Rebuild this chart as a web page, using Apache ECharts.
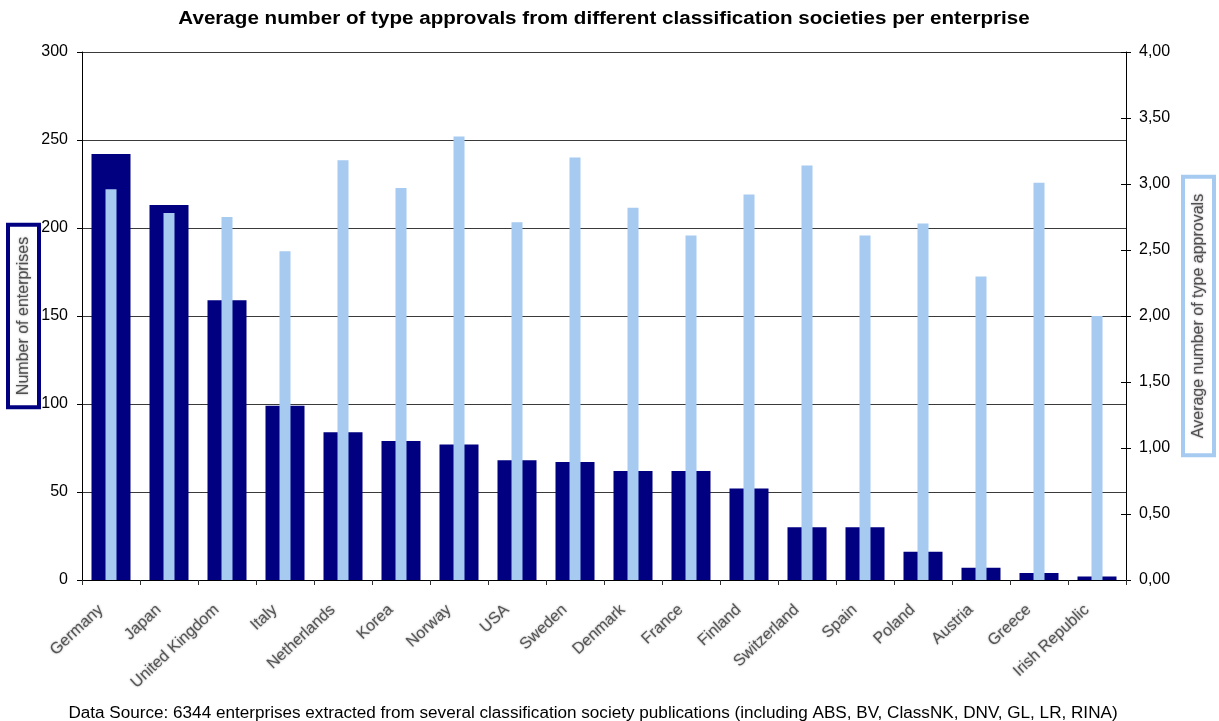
<!DOCTYPE html>
<html>
<head>
<meta charset="utf-8">
<title>Type approvals per enterprise</title>
<script src="https://cdn.jsdelivr.net/npm/echarts@6/dist/echarts.min.js"></script>
<style>
  html, body { margin: 0; padding: 0; background: #ffffff; }
  #chart { width: 1219px; height: 721px; }
</style>
</head>
<body>
<div id="chart"></div>
<script>
// Countries, ordered by number of enterprises
var countries = ['Germany', 'Japan', 'United Kingdom', 'Italy', 'Netherlands', 'Korea', 'Norway', 'USA',
  'Sweden', 'Denmark', 'France', 'Finland', 'Switzerland', 'Spain', 'Poland', 'Austria', 'Greece', 'Irish Republic'];

// Number of enterprises per country (left axis)
var enterprises = [242, 213, 159, 99, 84, 79, 77, 68, 67, 62, 62, 52, 30, 30, 16, 7, 4, 2];

// Average number of type approvals per enterprise (right axis)
var approvals = [2.96, 2.78, 2.75, 2.49, 3.18, 2.97, 3.36, 2.71, 3.20, 2.82, 2.61, 2.92, 3.14, 2.61, 2.70, 2.30, 3.01, 2.00];

// Axis ranges
var leftMax = 300, leftStep = 50;
var rightMax = 4, rightStep = 0.5;

var titleText = 'Average number of type approvals from different classification societies per enterprise';
var sourceText = 'Data Source: 6344 enterprises extracted from several classification society publications (including ABS, BV, ClassNK, DNV, GL, LR, RINA)';

var chart = echarts.init(document.getElementById('chart'), null, { renderer: 'canvas' });

var fontFamily = 'Arial, "Liberation Sans", Helvetica, sans-serif';

chart.setOption({
  animation: false,
  backgroundColor: '#ffffff',
  textStyle: { fontFamily: fontFamily },
  // Title and source line, drawn slightly widened
  graphic: [
    {
      type: 'text',
      x: 604,
      y: 10,
      scaleX: 1.145,
      style: {
        text: titleText,
        fill: '#000000',
        font: 'bold 18px ' + fontFamily,
        align: 'center',
        verticalAlign: 'top'
      }
    },
    {
      type: 'text',
      x: 593,
      y: 706,
      scaleX: 1.07,
      style: {
        text: sourceText,
        fill: '#000000',
        font: '16px ' + fontFamily,
        align: 'center',
        verticalAlign: 'top'
      }
    }
  ],
  grid: { left: 82, right: 93, top: 52, bottom: 141, containLabel: false, outerBoundsMode: 'none' },
  xAxis: [
    {
      type: 'category',
      data: countries,
      axisLine: { show: true, lineStyle: { color: '#000000', width: 1 } },
      axisTick: { show: true, length: 5, lineStyle: { color: '#333333' } },
      axisLabel: {
        rotate: 43,
        margin: 18,
        padding: [0, 14, 0, 0],
        interval: 0,
        fontSize: 16,
        color: '#555555',
        fontFamily: fontFamily,
        textShadowColor: 'rgba(90,90,90,0.6)',
        textShadowBlur: 2
      },
      splitLine: { show: false }
    },
    {
      type: 'category',
      data: countries,
      show: false
    }
  ],
  yAxis: [
    {
      type: 'value',
      position: 'left',
      min: 0,
      max: leftMax,
      interval: leftStep,
      name: 'Number of enterprises',
      nameLocation: 'middle',
      nameRotate: 90,
      nameGap: 45,
      nameMoveOverlap: false,
      nameTextStyle: {
        fontSize: 16,
        color: '#505050',
        fontFamily: fontFamily,
        backgroundColor: '#ffffff',
        borderColor: '#000080',
        borderWidth: 4,
        padding: [6, 10, 5, 10],
        textShadowColor: 'rgba(90,90,90,0.6)',
        textShadowBlur: 2
      },
      axisLine: { show: true, lineStyle: { color: '#000000', width: 1 } },
      axisTick: { show: true, length: 5, lineStyle: { color: '#000000' } },
      axisLabel: { fontSize: 16, color: '#000000', margin: 14, fontFamily: fontFamily },
      splitLine: { show: true, lineStyle: { color: '#3a3a3a', width: 1 } }
    },
    {
      type: 'value',
      position: 'right',
      min: 0,
      max: rightMax,
      interval: rightStep,
      name: 'Average number of type approvals',
      nameLocation: 'middle',
      nameRotate: 90,
      nameGap: 59,
      nameMoveOverlap: false,
      nameTextStyle: {
        fontSize: 16,
        color: '#505050',
        fontFamily: fontFamily,
        backgroundColor: '#ffffff',
        borderColor: '#a6caf0',
        borderWidth: 4,
        padding: [6, 15, 5, 15],
        textShadowColor: 'rgba(90,90,90,0.6)',
        textShadowBlur: 2
      },
      axisLine: { show: true, lineStyle: { color: '#000000', width: 1 } },
      axisTick: { show: true, length: 5, lineStyle: { color: '#000000' } },
      axisLabel: {
        fontSize: 16,
        color: '#000000',
        margin: 13,
        fontFamily: fontFamily,
        formatter: function (v) { return v.toFixed(2).replace('.', ','); }
      },
      splitLine: { show: false }
    },
    {
      // inner half of the right-axis tick marks, so they cross the axis line
      type: 'value',
      position: 'right',
      min: 0,
      max: rightMax,
      interval: rightStep,
      axisLine: { show: false },
      axisTick: { show: true, inside: true, length: 5, lineStyle: { color: '#000000' } },
      axisLabel: { show: false },
      splitLine: { show: false }
    }
  ],
  series: [
    {
      name: 'Number of enterprises',
      type: 'bar',
      xAxisIndex: 0,
      yAxisIndex: 0,
      data: enterprises,
      barWidth: 39,
      itemStyle: { color: '#000080' },
      z: 2
    },
    {
      name: 'Average number of type approvals',
      type: 'bar',
      xAxisIndex: 1,
      yAxisIndex: 1,
      data: approvals,
      barWidth: 11,
      itemStyle: { color: '#a6caf0' },
      z: 3
    }
  ]
});
</script>
</body>
</html>
